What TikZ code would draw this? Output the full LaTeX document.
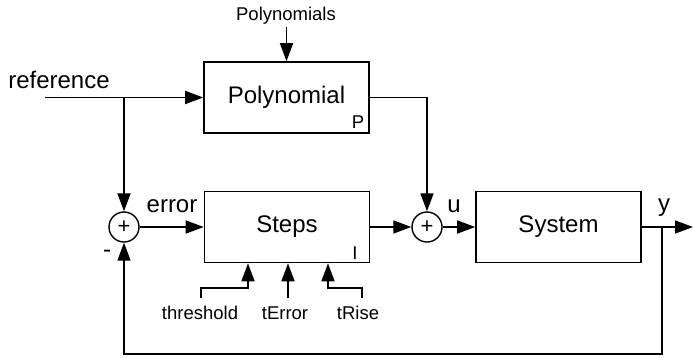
\documentclass[tikz,border=0pt]{standalone}
\usepackage{fontspec}
\setmainfont{Liberation Sans}
\usetikzlibrary{arrows.meta}
\begin{document}
\begin{tikzpicture}[x=1pt,y=-1pt,
  wire/.style={line width=1.6pt},
  arr/.style={wire,-{Triangle[length=18pt,width=13pt]}},
  block/.style={draw,line width=1.6pt,minimum width=165pt,minimum height=71pt,inner sep=0pt,font=\fontsize{24}{28}\selectfont},
  sumj/.style={draw,circle,line width=1.4pt,minimum size=30pt,inner sep=0pt,font=\fontsize{22}{26}\selectfont},
  big/.style={font=\fontsize{24}{28}\selectfont},
  small/.style={font=\fontsize{18.5}{22}\selectfont}]
\useasboundingbox (0,0) rectangle (693,357);

% blocks and summing junctions
\node[block] (poly) at (286.5,97.5) {Polynomial};
\node[block] (steps) at (287,227) {Steps};
\node[block] (sys) at (558.5,227) {System};
\node[sumj] (s1) at (124,227) {+};
\node[sumj] (s2) at (427,227) {+};
\node[small] (plab) at (358,122) {P};
\node[small] (ilab) at (355,253) {I};

% signal labels
\node[big] (ref) at (59,80) {reference};
\node[small] (polys) at (286,16) {Polynomials};
\node[big] (err) at (172,206) {error};
\node[big] (ulab) at (454,206) {u};
\node[big] (ylab) at (664,208) {y};
\node[big] (minus) at (107,254) {-};
\node[small] (thr) at (200,313) {threshold};
\node[small] (terr) at (285,313) {tError};
\node[small] (trise) at (358,313) {tRise};

% helper points
\coordinate (refin) at (45,97.5);
\coordinate (refbr) at (s1.north |- poly.west);
\coordinate (pin) at (286.5,27);
\coordinate (ybr) at (662,227);
\coordinate (yout) at (693,227);
\coordinate (fbc) at (662,354);
\coordinate (thr0) at (201,298);
\coordinate (thr1) at (248,288);
\coordinate (terr0) at (288,298);
\coordinate (tr0) at (362,298);
\coordinate (tr1) at (328,288);

% connectors
\draw[wire] (refin) -- (refbr);
\draw[arr] (refbr) -- (poly.west);
\draw[arr] (refbr) -- (s1.north);
\draw[arr] (pin) -- (poly.north);
\draw[arr] (poly.east) -| (s2.north);
\draw[arr] (s1.east) -- (steps.west);
\draw[arr] (steps.east) -- (s2.west);
\draw[arr] (s2.east) -- (sys.west);
\draw[arr] (sys.east) -- (yout);
\draw[arr] (ybr) -- (fbc) -| (s1.south);
\draw[arr] (thr0) |- (thr1) -- (thr1 |- steps.south);
\draw[arr] (terr0) -- (terr0 |- steps.south);
\draw[arr] (tr0) |- (tr1) -- (tr1 |- steps.south);
\end{tikzpicture}
\end{document}
